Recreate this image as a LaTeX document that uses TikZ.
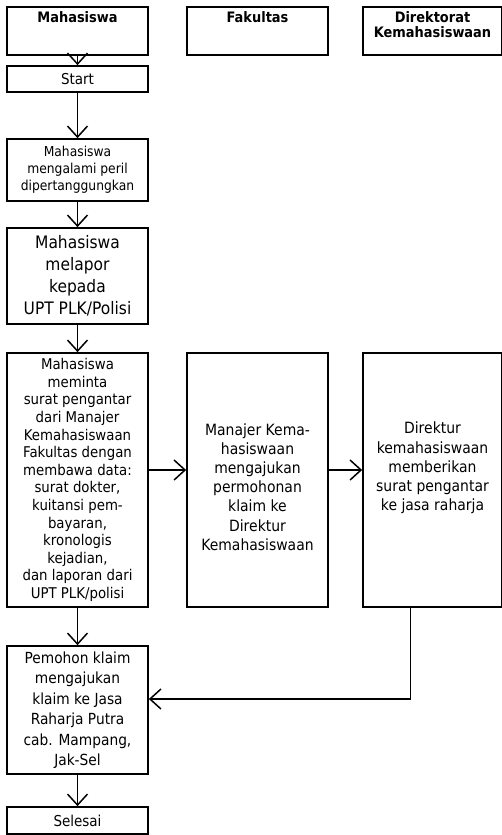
\documentclass[tikz,border=0pt]{standalone}
\usepackage{fontspec}
\setmainfont{DejaVu Sans}[FakeStretch=0.9]
\usetikzlibrary{arrows.meta}
\begin{document}
\begin{tikzpicture}[x=1pt,y=-1pt,
  box/.style={draw,line width=1.7pt,minimum width=141pt,inner sep=0pt},
  txt/.style={align=center,inner sep=0pt},
  arr/.style={line width=1.7pt,-{Straight Barb[length=11pt,width=20pt,line width=1.5pt]}}]
\useasboundingbox (0,0) rectangle (502,835);
% headers
\node[box,minimum height=48pt] (h1) at (77.5,31) {};
\node[txt,anchor=north,font=\bfseries\fontsize{14.4}{15.5}\selectfont] (h1t) at ([yshift=-5pt]h1.north) {Mahasiswa};
\node[box,minimum height=48pt] (h2) at (257.5,31) {};
\node[txt,anchor=north,font=\bfseries\fontsize{14.4}{15.5}\selectfont] (h2t) at ([yshift=-5pt]h2.north) {Fakultas};
\node[box,minimum height=48pt,minimum width=139pt] (h3) at (432.5,31) {};
\node[txt,anchor=north,font=\bfseries\fontsize{14.4}{15.5}\selectfont] (h3t) at ([yshift=-5pt]h3.north) {Direktorat\\Kemahasiswaan};
% left column
\node[box,minimum height=26pt,font=\fontsize{15}{16}\selectfont] (s) at (77.5,79) {Start};
\node[box,txt,draw,line width=1.7pt,minimum width=141pt,minimum height=62pt,font=\fontsize{13.7}{17}\selectfont] (b3) at (77.5,170) {Mahasiswa\\mengalami peril\\dipertanggungkan};
\node[box,txt,draw,line width=1.7pt,minimum width=141pt,minimum height=96pt,font=\fontsize{17.2}{22}\selectfont] (b4) at (77.5,276) {Mahasiswa\\melapor\\kepada\\UPT PLK/Polisi};
\node[box,txt,draw,line width=1.7pt,minimum width=141pt,minimum height=254pt,font=\fontsize{14.8}{17.6}\selectfont] (b5) at (77.5,480) {Mahasiswa\\meminta\\surat pengantar\\dari Manajer\\Kemahasiswaan\\Fakultas dengan\\membawa data:\\surat dokter,\\kuitansi pem-\\bayaran,\\kronologis\\kejadian,\\dan laporan dari\\UPT PLK/polisi};
\node[box,minimum height=254pt] (b6) at (257.5,480) {};
\node[txt,font=\fontsize{15.5}{19.2}\selectfont] (t6) at (257.5,487) {Manajer Kema-\\hasiswaan\\mengajukan\\permohonan\\klaim ke\\Direktur\\Kemahasiswaan};
\node[box,minimum height=254pt,minimum width=139pt] (b7) at (432.5,480) {};
\node[txt,font=\fontsize{15.5}{19.2}\selectfont] (t7) at (432.5,468) {Direktur\\kemahasiswaan\\memberikan\\surat pengantar\\ke jasa raharja};
\node[box,txt,draw,line width=1.7pt,minimum width=141pt,minimum height=128pt,font=\fontsize{15.3}{20.5}\selectfont] (b8) at (77.5,710) {Pemohon klaim\\mengajukan\\klaim ke Jasa\\Raharja Putra\\cab. Mampang,\\Jak-Sel};
\node[box,minimum height=27pt,font=\fontsize{15}{16}\selectfont] (b9) at (77.5,820.5) {Selesai};
% connectors
\draw[arr] (h1) -- (s);
\draw[arr] (s) -- (b3);
\draw[arr] (b3) -- (b4);
\draw[arr] (b4) -- (b5);
\draw[arr] ([yshift=10pt]b5.east) -- ([yshift=10pt]b6.west);
\draw[arr] ([yshift=10pt]b6.east) -- ([yshift=10pt]b7.west);
\draw[arr] (b5) -- (b8);
\draw[arr] ([xshift=-22pt]b7.south) |- ([yshift=11pt]b8.east);
\draw[arr] (b8) -- (b9);
\end{tikzpicture}
\end{document}
